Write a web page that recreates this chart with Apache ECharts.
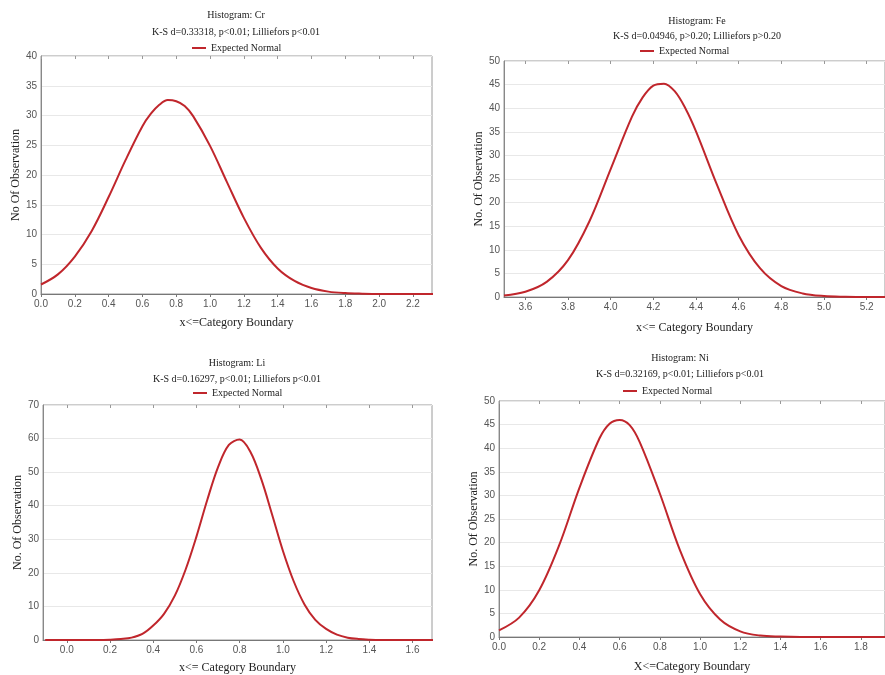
<!DOCTYPE html>
<html>
<head>
<meta charset="utf-8">
<script src="https://cdn.jsdelivr.net/npm/echarts@6/dist/echarts.min.js"></script>
<style>
  html, body { margin: 0; padding: 0; background: #fff; }
  #chart { width: 885px; height: 675px; }
</style>
</head>
<body>
<div id="chart"></div>
<script>
// Cr
const crX = [0, 0.1, 0.2, 0.3, 0.4, 0.5, 0.6, 0.65, 0.7, 0.75, 0.8, 0.85, 0.9, 1.0, 1.1, 1.2, 1.3, 1.4, 1.5, 1.6, 1.7, 1.8, 1.9, 2.0, 2.1, 2.2, 2.3, 2.4]
const crY = [1.6, 3.3, 6.3, 10.6, 16.3, 22.5, 28.2, 30.3, 31.8, 32.6, 32.4, 31.6, 29.9, 24.9, 18.8, 12.8, 7.8, 4.3, 2.2, 1.0, 0.4, 0.15, 0.05, 0, 0, 0, 0, 0]
const crTicks = [0, 0.2, 0.4, 0.6, 0.8, 1.0, 1.2, 1.4, 1.6, 1.8, 2.0, 2.2]

// Fe
const feX = [3.5, 3.6, 3.7, 3.8, 3.9, 4.0, 4.1, 4.15, 4.2, 4.25, 4.3, 4.35, 4.4, 4.5, 4.6, 4.7, 4.8, 4.9, 5.0, 5.1, 5.2, 5.3]
const feY = [0.3, 1.1, 3.2, 7.8, 16.0, 27.1, 38.2, 42.3, 44.8, 45.2, 43.6, 40.0, 35.1, 23.6, 13.1, 6.1, 2.3, 0.75, 0.2, 0.05, 0, 0]
const feTicks = [3.6, 3.8, 4.0, 4.2, 4.4, 4.6, 4.8, 5.0, 5.2]

// Li
const liX = [-0.1, -0.05, 0, 0.05, 0.1, 0.15, 0.2, 0.25, 0.3, 0.35, 0.4, 0.45, 0.5, 0.55, 0.6, 0.65, 0.7, 0.75, 0.8, 0.85,
             0.9, 0.95, 1.0, 1.05, 1.1, 1.15, 1.2, 1.25, 1.3, 1.35, 1.4, 1.45, 1.5, 1.55, 1.6, 1.65, 1.7]
const liY = [0, 0, 0, 0, 0, 0, 0.1, 0.3, 0.7, 1.8, 4.3, 7.8, 13.2, 21.0, 30.8, 41.7, 51.5, 58.1, 59.7, 56.0,
             47.9, 37.4, 26.6, 17.5, 10.6, 6.0, 3.3, 1.6, 0.7, 0.3, 0.1, 0, 0, 0, 0, 0, 0]
const liTicks = [0, 0.2, 0.4, 0.6, 0.8, 1.0, 1.2, 1.4, 1.6]

// Ni
const niX = [0, 0.1, 0.2, 0.3, 0.4, 0.5, 0.55, 0.6, 0.65, 0.7, 0.8, 0.9, 1.0, 1.1, 1.2, 1.3, 1.4, 1.5, 1.6, 1.7, 1.8, 1.9, 2.0]
const niY = [1.4, 4.1, 9.9, 19.5, 31.6, 42.1, 45.2, 46.0, 44.9, 41.3, 30.4, 18.4, 9.1, 3.7, 1.2, 0.3, 0.08, 0, 0, 0, 0, 0, 0]
const niTicks = [0, 0.2, 0.4, 0.6, 0.8, 1.0, 1.2, 1.4, 1.6, 1.8]

const panels = [
  {
    title: 'Histogram: Cr', sub: 'K-S d=0.33318, p<0.01; Lilliefors p<0.01',
    titleX: 236, titleTop: 10, titleGap: 7, legendX: 192, legendTop: 43,
    left: 41, top: 56, width: 391, height: 238,
    xMin: 0, xMax: 2.313, ticks: crTicks, yMax: 40, yStep: 5,
    xName: 'x<=Category Boundary', yName: 'No Of Observation', xGap: 23, yGap: 16,
    xs: crX, ys: crY
  },
  {
    title: 'Histogram: Fe', sub: 'K-S d=0.04946, p>0.20; Lilliefors p>0.20',
    titleX: 697, titleTop: 16, titleGap: 5, legendX: 640, legendTop: 46,
    left: 504, top: 61, width: 384, height: 236,
    xMin: 3.5, xMax: 5.286, ticks: feTicks, yMax: 50, yStep: 5,
    xName: 'x<= Category Boundary', yName: 'No. Of Observation', xGap: 25, yGap: 10,
    xs: feX, ys: feY
  },
  {
    title: 'Histogram: Li', sub: 'K-S d=0.16297, p<0.01; Lilliefors p<0.01',
    titleX: 237, titleTop: 358, titleGap: 6, legendX: 193, legendTop: 388,
    left: 43, top: 405, width: 389, height: 235,
    xMin: -0.11, xMax: 1.69, ticks: liTicks, yMax: 70, yStep: 10,
    xName: 'x<= Category Boundary', yName: 'No. Of Observation', xGap: 22, yGap: 18,
    xs: liX, ys: liY
  },
  {
    title: 'Histogram: Ni', sub: 'K-S d=0.32169, p<0.01; Lilliefors p<0.01',
    titleX: 680, titleTop: 353, titleGap: 6, legendX: 623, legendTop: 386,
    left: 499, top: 401, width: 388, height: 236,
    xMin: 0, xMax: 1.92, ticks: niTicks, yMax: 50, yStep: 5,
    xName: 'X<=Category Boundary', yName: 'No. Of Observation', xGap: 24, yGap: 17,
    xs: niX, ys: niY
  }
]

const serif = 'Liberation Serif, DejaVu Serif, serif'
const sans = 'Liberation Sans, Arial, sans-serif'
const lineColor = '#c0262c'

const option = {
  backgroundColor: '#fff',
  animation: false,
  title: [],
  legend: [],
  grid: [],
  xAxis: [],
  yAxis: [],
  series: []
}

panels.forEach((p, i) => {
  option.title.push({
    text: p.title,
    subtext: p.sub,
    left: p.titleX,
    top: p.titleTop,
    padding: 0,
    textAlign: 'center',
    itemGap: p.titleGap,
    textStyle: { fontFamily: serif, fontSize: 10, fontWeight: 'normal', color: '#222' },
    subtextStyle: { fontFamily: serif, fontSize: 10, color: '#222' }
  })
  option.legend.push({
    data: ['Expected Normal'],
    left: p.legendX,
    top: p.legendTop,
    padding: 0,
    icon: 'rect',
    itemWidth: 14,
    itemHeight: 2,
    itemGap: 4,
    textStyle: { fontFamily: serif, fontSize: 10, color: '#222' }
  })
  option.grid.push({
    left: p.left, top: p.top, width: p.width, height: p.height,
    show: true, borderColor: '#9a9a9a', borderWidth: 1
  })
  // bottom axis
  option.xAxis.push({
    type: 'value', gridIndex: i, position: 'bottom',
    min: p.xMin, max: p.xMax,
    name: p.xName, nameLocation: 'middle', nameGap: p.xGap,
    nameTextStyle: { fontFamily: serif, fontSize: 12, color: '#222' },
    axisLine: { show: true, onZero: false, lineStyle: { color: '#777' } },
    axisTick: { show: true, customValues: p.ticks, length: 3, lineStyle: { color: '#777' } },
    axisLabel: {
      customValues: p.ticks, margin: 5, fontFamily: sans, fontSize: 10, color: '#555',
      formatter: v => v.toFixed(1)
    },
    splitLine: { show: false }
  })
  // top ticks only
  option.xAxis.push({
    type: 'value', gridIndex: i, position: 'top',
    min: p.xMin, max: p.xMax,
    axisLine: { show: false, onZero: false },
    axisTick: { show: true, inside: true, customValues: p.ticks, length: 3, lineStyle: { color: '#999' } },
    axisLabel: { show: false },
    splitLine: { show: false }
  })
  option.yAxis.push({
    type: 'value', gridIndex: i,
    min: 0, max: p.yMax, interval: p.yStep,
    name: p.yName, nameLocation: 'middle', nameGap: p.yGap,
    nameTextStyle: { fontFamily: serif, fontSize: 12, color: '#222' },
    axisLine: { show: true, onZero: false, lineStyle: { color: '#888' } },
    axisTick: { show: false },
    axisLabel: { margin: 4, fontFamily: sans, fontSize: 10, color: '#555' },
    splitLine: { show: true, lineStyle: { color: '#e8e8e8' } }
  })
  option.series.push({
    name: 'Expected Normal',
    type: 'line',
    xAxisIndex: 2 * i,
    yAxisIndex: i,
    data: p.xs.map((x, k) => [x, p.ys[k]]),
    smooth: 0.35,
    showSymbol: false,
    clip: true,
    lineStyle: { color: lineColor, width: 2 },
    itemStyle: { color: lineColor }
  })
})

const chart = echarts.init(document.getElementById('chart'))
chart.setOption(option)
</script>
</body>
</html>
